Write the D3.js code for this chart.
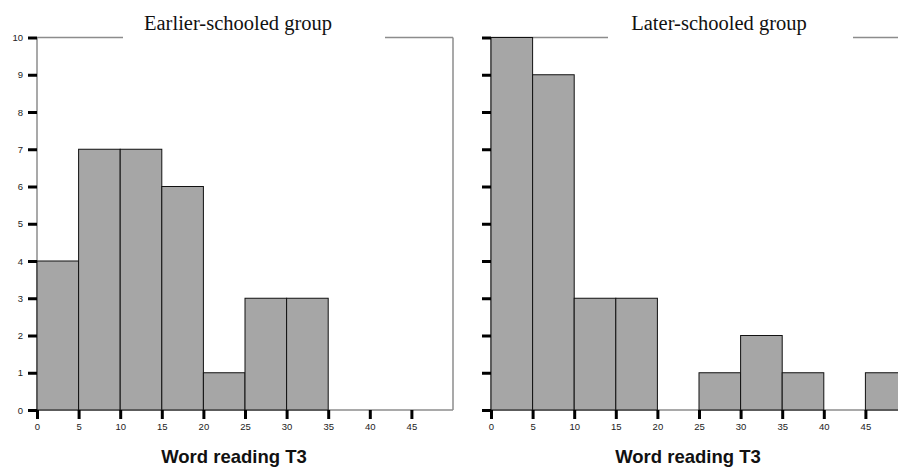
<!DOCTYPE html>
<html>
<head>
<meta charset="utf-8">
<script src="https://cdn.jsdelivr.net/npm/d3@7"></script>
<style>
  html, body { margin: 0; padding: 0; background: #fff; }
  svg { display: block; }
</style>
</head>
<body>
<svg id="chart" width="898" height="468"></svg>
<script>
const binStarts = [0, 5, 10, 15, 20, 25, 30, 35, 40, 45];
const binWidth = 5;
const earlierCounts = [4, 7, 7, 6, 1, 3, 3, 0, 0, 0];
const laterCounts = [10, 9, 3, 3, 0, 1, 2, 1, 0, 1];
const xTicks = [0, 5, 10, 15, 20, 25, 30, 35, 40, 45];
const yTicks = [0, 1, 2, 3, 4, 5, 6, 7, 8, 9, 10];
const panelTitles = ["Earlier-schooled group", "Later-schooled group"];
const xAxisTitle = "Word reading T3";

const svg = d3.select("#chart");

const panels = [
  { counts: earlierCounts, title: panelTitles[0], x0: 37, showYLabels: true, gap: [123, 385], titleX: 238 },
  { counts: laterCounts, title: panelTitles[1], x0: 491, showYLabels: false, gap: [608, 853], titleX: 719 }
];

const y = d3.scaleLinear().domain([0, 10]).range([410, 37.5]);

panels.forEach(p => {
  const x = d3.scaleLinear().domain([0, 50]).range([p.x0, p.x0 + 416]);
  const g = svg.append("g");
  const gray = "#8c8c8c";
  const top = y(10), bot = y(0), left = x(0), right = x(50);

  // frame
  g.append("line").attr("x1", left).attr("x2", left).attr("y1", top).attr("y2", bot)
    .attr("stroke", gray).attr("stroke-width", 1.5);
  g.append("line").attr("x1", left).attr("x2", right).attr("y1", bot).attr("y2", bot)
    .attr("stroke", gray).attr("stroke-width", 1.5);
  g.append("line").attr("x1", left).attr("x2", p.gap[0]).attr("y1", top).attr("y2", top)
    .attr("stroke", gray).attr("stroke-width", 1.5);
  g.append("line").attr("x1", p.gap[1]).attr("x2", right).attr("y1", top).attr("y2", top)
    .attr("stroke", gray).attr("stroke-width", 1.5);
  g.append("line").attr("x1", right).attr("x2", right).attr("y1", top).attr("y2", bot)
    .attr("stroke", gray).attr("stroke-width", 1.5);

  // bars
  g.selectAll("rect.bar")
    .data(binStarts.map((s, i) => ({ s, c: p.counts[i] })).filter(d => d.c > 0))
    .enter().append("rect")
    .attr("class", "bar")
    .attr("x", d => x(d.s))
    .attr("width", d => x(d.s + binWidth) - x(d.s))
    .attr("y", d => y(d.c))
    .attr("height", d => y(0) - y(d.c))
    .attr("fill", "#a6a6a6")
    .attr("stroke", "#111")
    .attr("stroke-width", 1);

  // y axis
  const yAxis = d3.axisLeft(y).tickValues(yTicks).tickSize(9).tickPadding(5)
    .tickFormat(p.showYLabels ? d3.format("d") : () => "");
  const ya = g.append("g").attr("transform", `translate(${left},0)`).call(yAxis);
  ya.select(".domain").remove();
  ya.selectAll(".tick line").attr("stroke", "#000").attr("stroke-width", 3);
  ya.selectAll(".tick text").attr("font-family", "Liberation Sans, Arial, sans-serif")
    .attr("font-size", 9.5).attr("fill", "#222");

  // x axis
  const xAxis = d3.axisBottom(x).tickValues(xTicks).tickSize(9).tickPadding(4)
    .tickFormat(d3.format("d"));
  const xa = g.append("g").attr("transform", `translate(0,${bot})`).call(xAxis);
  xa.select(".domain").remove();
  xa.selectAll(".tick line").attr("stroke", "#000").attr("stroke-width", 3);
  xa.selectAll(".tick text").attr("font-family", "Liberation Sans, Arial, sans-serif")
    .attr("font-size", 9.5).attr("fill", "#222");

  // panel title
  g.append("text").attr("x", p.titleX).attr("y", 30)
    .attr("text-anchor", "middle")
    .attr("font-family", "Liberation Serif, Times New Roman, serif")
    .attr("font-size", 20.5).attr("fill", "#111")
    .text(p.title);

  // x axis title
  g.append("text").attr("x", left + 197).attr("y", 463)
    .attr("text-anchor", "middle")
    .attr("font-family", "Liberation Sans, Arial, sans-serif")
    .attr("font-weight", "bold")
    .attr("font-size", 18.5).attr("fill", "#111")
    .text(xAxisTitle);
});
</script>
</body>
</html>
